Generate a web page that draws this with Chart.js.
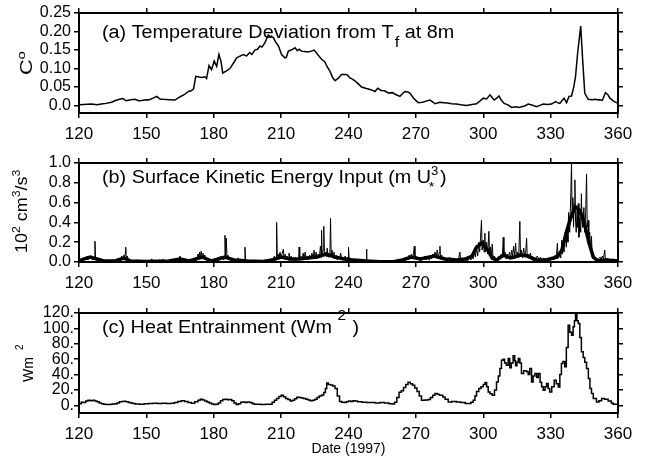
<!DOCTYPE html>
<html>
<head>
<meta charset="utf-8">
<script src="https://cdn.jsdelivr.net/npm/chart.js@4.4.1/dist/chart.umd.min.js"></script>
<style>
  body { margin: 0; background: #fff; }
  #wrap { position: relative; width: 646px; height: 460px; background: #fff; }
  canvas { position: absolute; left: 0; }
</style>
</head>
<body>
<div id="wrap">
  <canvas id="panelA" width="646" height="150" style="top:0px"></canvas>
  <canvas id="panelB" width="646" height="150" style="top:150px"></canvas>
  <canvas id="panelC" width="646" height="160" style="top:300px"></canvas>
</div>
<script>
// shared x axis (day of year)
const xMin = 120, xMax = 360;
const xTickLabels = ['120', '150', '180', '210', '240', '270', '300', '330', '360'];

// (a) temperature deviation from Tf at 8m
const daysA = [120, 122, 125.6, 128, 130, 132, 134.5, 136, 138, 139.5, 141, 143, 145, 146.5, 148, 150, 151, 153, 154.6, 156,
  157.5, 160, 162.7, 164, 165.7, 167, 168.7, 170, 171, 172, 173.5, 174.6, 176, 176.8, 177.9, 179, 180.2, 181.3, 182.3, 183.2,
  184, 185.5, 187.2, 188.8, 190.2, 191.5, 193.1, 194.6, 196, 197, 198.3, 199.5, 200.6, 201.5, 202.8, 204.3, 205.3, 206.5, 207.5, 208.8,
  210.2, 211.7, 212.3, 213.2, 214.5, 216.2, 217.2, 218, 219.1, 220.5, 222.1, 223.4, 224.7, 226, 228, 229.5, 230.5, 231.7, 233, 234,
  235.5, 236.9, 238.4, 239.5, 240.5, 241.4, 243, 244.5, 245.8, 248, 250, 251.8, 253, 254.5, 256, 257.7, 259.5, 261, 262.9, 264,
  265.1, 266.5, 267.3, 269, 271, 273, 274.5, 276.2, 277.5, 278.5, 280.7, 282.5, 284, 285.9, 288, 290, 292.6, 295, 297, 298.5,
  300, 301.5, 303, 304.2, 304.9, 306, 307, 308, 309.3, 311, 312.6, 314.5, 316, 317, 318.5, 320, 322, 323.7, 325, 326.7,
  328.5, 330.4, 332.2, 333, 334.1, 335, 336, 337.1, 338.2, 339.3, 340.3, 341.1, 342, 343.4, 344.3, 345.2, 346.7, 348.5, 350, 351.2,
  352, 353, 354.4, 355.4, 356.4, 358, 360];
const tempDev = [0.002, 0.003, 0.004, 0.002, 0.004, 0.006, 0.009, 0.013, 0.017, 0.019, 0.013, 0.016, 0.017, 0.013, 0.014, 0.016, 0.015, 0.02, 0.025, 0.018,
  0.017, 0.016, 0.015, 0.02, 0.026, 0.03, 0.038, 0.04, 0.045, 0.079, 0.077, 0.076, 0.078, 0.073, 0.108, 0.097, 0.12, 0.106, 0.138, 0.12,
  0.088, 0.093, 0.10, 0.115, 0.129, 0.133, 0.138, 0.134, 0.143, 0.138, 0.15, 0.152, 0.161, 0.158, 0.17, 0.191, 0.186, 0.184, 0.172, 0.161,
  0.138, 0.129, 0.13, 0.147, 0.15, 0.156, 0.148, 0.152, 0.147, 0.146, 0.145, 0.147, 0.15, 0.14, 0.125, 0.118, 0.105, 0.093, 0.075, 0.067,
  0.074, 0.084, 0.084, 0.083, 0.075, 0.073, 0.066, 0.058, 0.05, 0.046, 0.043, 0.038, 0.047, 0.041, 0.04, 0.034, 0.035, 0.03, 0.025, 0.032,
  0.038, 0.037, 0.034, 0.02, 0.008, 0.009, 0.012, 0.015, 0.01, 0.005, 0.009, 0.008, 0.007, 0.005, 0.004, 0.002, 0, 0.003, 0.005, 0.012,
  0.02, 0.018, 0.029, 0.02, 0.015, 0.02, 0.026, 0.015, 0.006, 0.002, -0.005, -0.003, -0.005, -0.003, -0.001, 0.004, 0.001, -0.003, 0, 0.004,
  0.003, 0.004, 0.011, 0.008, 0.006, 0.013, 0.02, 0.008, 0.025, 0.026, 0.05, 0.079, 0.14, 0.215, 0.12, 0.034, 0.017, 0.016, 0.017, 0.015,
  0.016, 0.014, 0.035, 0.03, 0.02, 0.012, 0.006];
const yLabelsA = ['0.0', '0.05', '0.10', '0.15', '0.20', '0.25'];

// (b) surface kinetic energy input, raw series
const daysB = [
  120, 120.5, 121, 121.5, 122, 122.5, 123, 123.5, 124, 124.5,
  125, 125.5, 126, 126.5, 126.8, 127.1, 127.4, 128, 128.5, 129,
  130, 131, 132, 133, 134, 135, 136, 137, 137.5, 138,
  138.5, 139, 139.5, 140, 140.3, 140.6, 140.8, 141.1, 141.5, 142,
  143, 144, 145, 146, 146.5, 147, 148, 150, 151, 152.5,
  153, 154, 155, 156, 157, 157.5, 158, 159, 160, 161,
  162, 163, 163.5, 164, 164.5, 165, 165.5, 166, 166.5, 167,
  168, 169, 170, 171, 171.5, 172, 172.5, 173, 173.3, 173.7,
  174, 174.4, 174.8, 175.2, 175.6, 176, 176.5, 177, 178, 179,
  180, 181, 181.5, 182, 182.5, 183, 183.5, 184, 184.5, 184.8,
  185, 185.3, 185.6, 185.9, 186.3, 186.8, 187.3, 188, 188.5, 189,
  190, 191, 191.5, 192, 193, 193.7, 193.9, 194.2, 195, 196,
  197, 199, 201, 203, 204, 205, 205.5, 206, 206.5, 207,
  207.5, 207.8, 208, 208.3, 208.7, 209, 209.5, 210, 210.5, 211,
  211.3, 211.8, 212.2, 212.7, 213.2, 213.5, 214, 214.5, 215, 216,
  216.5, 217, 217.5, 217.8, 218, 218.3, 218.8, 219.3, 219.8, 220.2,
  220.7, 221.2, 221.7, 222.2, 222.7, 223.2, 223.7, 224.2, 224.7, 225.1,
  225.6, 226, 226.5, 227, 227.5, 227.8, 228, 228.3, 228.7, 229,
  229.3, 229.8, 230.2, 230.5, 230.9, 231.3, 231.7, 232, 232.3, 232.7,
  233.1, 233.5, 234, 234.5, 235, 235.5, 236, 236.5, 237, 237.5,
  238, 238.5, 239, 239.5, 239.8, 240, 240.3, 241, 242, 243,
  244, 245, 246, 247, 247.9, 248, 248.2, 249, 251, 253,
  256, 259, 262, 263, 264, 265, 265.5, 266, 266.5, 267,
  267.5, 268, 268.5, 269, 269.3, 269.6, 270, 270.5, 271, 272,
  273, 274, 274.5, 275, 276, 276.5, 277, 277.5, 278, 278.5,
  279, 279.5, 280, 280.4, 280.7, 281, 281.5, 282, 283, 284,
  285, 285.5, 286, 287, 288, 289, 289.6, 290, 291, 292,
  293, 294, 294.5, 295, 295.5, 296, 296.5, 297, 297.5, 298,
  298.4, 298.8, 299.2, 299.5, 300, 300.4, 300.7, 301, 301.5, 302,
  302.5, 302.8, 303.2, 303.6, 304, 304.4, 305, 305.5, 306, 306.5,
  307, 307.5, 308, 308.5, 308.9, 309.2, 309.7, 310.2, 310.7, 311.2,
  311.7, 312.2, 312.7, 313.1, 313.5, 314, 314.4, 314.8, 315.3, 315.8,
  316.3, 316.6, 317, 317.5, 318, 318.5, 318.9, 319.3, 319.6, 320,
  320.5, 321, 321.5, 322, 322.5, 323, 323.5, 324, 325, 325.5,
  326, 327, 328, 329, 330, 331, 331.5, 332, 332.5, 333,
  333.3, 334, 334.5, 335, 335.3, 335.7, 336, 336.5, 337, 337.3,
  337.7, 338, 338.5, 339, 339.3, 339.6, 339.9, 340.2, 340.5, 340.8,
  341.1, 341.4, 341.8, 342.1, 342.3, 342.6, 343, 343.4, 343.7, 344,
  344.4, 344.8, 345.2, 345.6, 346, 346.3, 346.7, 347, 347.4, 347.8,
  348.2, 348.5, 349, 349.5, 350, 350.5, 351, 352, 352.5, 353,
  353.5, 354.1, 354.4, 355, 355.5, 356, 357, 358, 359, 360];
const keRaw = [
  0.01, 0.03, 0.01, 0.04, 0.02, 0.05, 0.03, 0.06, 0.02, 0.05,
  0.03, 0.06, 0.02, 0.05, 0.03, 0.21, 0.02, 0.04, 0.01, 0.03,
  0.01, 0.02, 0.005, 0.01, 0.005, 0.02, 0.01, 0.03, 0.01, 0.04,
  0.02, 0.06, 0.03, 0.07, 0.03, 0.09, 0.15, 0.03, 0.06, 0.02,
  0.01, 0.005, 0.01, 0.02, 0.005, 0.02, 0.005, 0.01, 0.005, 0.03,
  0.005, 0.01, 0.005, 0.02, 0.01, 0.03, 0.01, 0.005, 0.01, 0.02,
  0.01, 0.03, 0.01, 0.04, 0.02, 0.06, 0.02, 0.04, 0.01, 0.03,
  0.01, 0.005, 0.01, 0.03, 0.01, 0.05, 0.02, 0.08, 0.03, 0.10,
  0.04, 0.11, 0.05, 0.09, 0.03, 0.07, 0.02, 0.04, 0.01, 0.02,
  0.005, 0.03, 0.01, 0.05, 0.02, 0.06, 0.03, 0.05, 0.02, 0.04,
  0.27, 0.05, 0.24, 0.04, 0.07, 0.02, 0.05, 0.01, 0.03, 0.01,
  0.02, 0.04, 0.01, 0.03, 0.01, 0.02, 0.15, 0.02, 0.01, 0.02,
  0.005, 0.01, 0.005, 0.005, 0.01, 0.03, 0.01, 0.04, 0.02, 0.06,
  0.03, 0.05, 0.40, 0.04, 0.08, 0.03, 0.10, 0.04, 0.09, 0.13,
  0.03, 0.08, 0.02, 0.06, 0.02, 0.09, 0.03, 0.06, 0.01, 0.03,
  0.01, 0.04, 0.02, 0.03, 0.15, 0.02, 0.06, 0.02, 0.09, 0.03,
  0.10, 0.03, 0.06, 0.02, 0.07, 0.03, 0.09, 0.04, 0.12, 0.04,
  0.10, 0.04, 0.08, 0.04, 0.16, 0.05, 0.32, 0.05, 0.12, 0.36,
  0.06, 0.10, 0.05, 0.14, 0.05, 0.09, 0.05, 0.44, 0.06, 0.12,
  0.04, 0.10, 0.03, 0.07, 0.02, 0.06, 0.03, 0.09, 0.03, 0.05,
  0.02, 0.06, 0.02, 0.05, 0.03, 0.15, 0.02, 0.04, 0.02, 0.03,
  0.01, 0.02, 0.01, 0.02, 0.01, 0.13, 0.01, 0.01, 0.005, 0.005,
  0.003, 0.005, 0.01, 0.02, 0.01, 0.04, 0.02, 0.05, 0.02, 0.07,
  0.03, 0.08, 0.03, 0.10, 0.16, 0.04, 0.06, 0.02, 0.04, 0.01,
  0.03, 0.06, 0.02, 0.04, 0.02, 0.05, 0.03, 0.08, 0.04, 0.10,
  0.05, 0.12, 0.05, 0.09, 0.16, 0.04, 0.07, 0.02, 0.04, 0.01,
  0.05, 0.02, 0.03, 0.01, 0.02, 0.03, 0.10, 0.01, 0.02, 0.03,
  0.01, 0.05, 0.02, 0.07, 0.03, 0.10, 0.05, 0.14, 0.06, 0.20,
  0.10, 0.25, 0.42, 0.12, 0.22, 0.10, 0.29, 0.10, 0.20, 0.08,
  0.31, 0.08, 0.15, 0.05, 0.18, 0.04, 0.06, 0.02, 0.04, 0.02,
  0.06, 0.03, 0.08, 0.04, 0.25, 0.05, 0.10, 0.03, 0.08, 0.03,
  0.10, 0.04, 0.12, 0.05, 0.16, 0.06, 0.19, 0.05, 0.10, 0.04,
  0.41, 0.06, 0.12, 0.04, 0.14, 0.05, 0.10, 0.24, 0.04, 0.08,
  0.03, 0.09, 0.03, 0.06, 0.02, 0.05, 0.02, 0.06, 0.02, 0.05,
  0.02, 0.04, 0.01, 0.03, 0.02, 0.05, 0.02, 0.07, 0.03, 0.19,
  0.04, 0.08, 0.04, 0.22, 0.08, 0.18, 0.10, 0.30, 0.15, 0.35,
  0.20, 0.50, 0.30, 0.70, 1.0, 0.45, 0.65, 0.35, 0.60, 0.83,
  0.40, 0.30, 0.55, 0.35, 0.59, 0.25, 0.45, 0.30, 0.69, 0.40,
  0.35, 0.55, 0.30, 0.50, 0.89, 0.35, 0.42, 0.22, 0.30, 0.12,
  0.26, 0.05, 0.03, 0.06, 0.02, 0.04, 0.02, 0.05, 0.02, 0.06,
  0.03, 0.12, 0.02, 0.04, 0.02, 0.03, 0.01, 0.03, 0.02, 0.03];

// (b) smoothed series (thick line)
const daysBs = [120, 122, 125, 128, 131, 136, 140, 143, 150, 160, 165, 169, 175, 179, 185, 189, 195, 202, 206, 210,
  214, 218, 222, 226, 230, 234, 238, 242, 248, 254, 260, 264, 268, 272, 278, 283, 288, 292, 295, 297,
  299.5, 302, 304, 306, 309, 312, 314, 316, 320, 323, 328, 333, 335, 337, 339, 341, 343, 345, 347, 349,
  351, 355, 360];
const keSmooth = [0.01, 0.03, 0.05, 0.03, 0.01, 0.01, 0.04, 0.01, 0.005, 0.01, 0.03, 0.01, 0.05, 0.01, 0.05, 0.02, 0.01, 0.005, 0.02, 0.05,
  0.03, 0.03, 0.04, 0.05, 0.08, 0.05, 0.03, 0.02, 0.01, 0.003, 0.003, 0.02, 0.05, 0.03, 0.06, 0.03, 0.02, 0.03, 0.06, 0.15,
  0.195, 0.12, 0.04, 0.02, 0.07, 0.04, 0.05, 0.07, 0.06, 0.02, 0.02, 0.05, 0.12, 0.30, 0.45, 0.56, 0.52, 0.40, 0.20, 0.05,
  0.01, 0.02, 0.01];
const yLabelsB = ['0.0', '0.2', '0.4', '0.6', '0.8', '1.0'];

// (c) heat entrainment
const daysC = [
  120, 121, 122, 123, 124, 125, 126, 127, 128, 129,
  130, 131, 132, 134, 135, 136, 137, 138, 139, 140,
  141, 142, 143, 144, 145, 147, 149, 151, 153, 155,
  157, 159, 161, 162.5, 164, 165.5, 167, 168.5, 170, 171.5,
  173, 174, 175, 176, 177, 178, 179, 180, 181, 182,
  183, 184, 185, 186, 187, 188, 189, 190, 191, 192,
  193, 194, 195, 196, 197, 198, 199, 201, 203, 205,
  206, 207, 208, 209, 210, 211, 212, 213, 214, 215,
  216, 217, 218, 219, 220, 221, 222, 223, 224, 225,
  226, 227, 228, 229, 229.7, 230.3, 231, 232, 233, 234,
  235, 236, 237, 238, 239, 240, 241, 242, 243, 244,
  246, 248, 250, 252, 254, 256, 258, 259.5, 260.5, 261.5,
  262.5, 263.5, 264.5, 265.5, 266.5, 267.5, 268.5, 269.5, 270.5, 271.5,
  272.5, 274, 275.5, 276.5, 277.5, 278.5, 279.5, 280.5, 282, 283,
  284.4, 286, 288, 290, 292, 293.3, 294.5, 295.5, 296.3, 297,
  298, 299, 300, 300.8, 301.5, 302.2, 303, 304, 305, 305.9,
  306.7, 307.4, 308.1, 308.8, 309.5, 310.3, 311.1, 311.8, 312.5, 313.3,
  314, 314.4, 315, 315.6, 316.3, 317, 318, 319.3, 320, 320.7,
  321.5, 322.2, 323, 323.8, 324.5, 325.3, 326, 326.7, 327.5, 328.2,
  328.9, 329.6, 330.5, 331.6, 332.5, 333.4, 334.1, 334.8, 335.5, 336.3,
  337, 337.8, 338.5, 339.3, 340, 340.6, 341.1, 341.7, 342.3, 343,
  343.7, 344.5, 345.2, 346, 346.8, 347.5, 348.2, 349, 350.4, 351.5,
  352.7, 354, 355.6, 357, 357.8, 360];
const heatC = [
  2, 4, 3.5, 5.5, 6.5, 6, 6.5, 5.5, 4.5, 3,
  2, 1.3, 1, 1.3, 1.7, 2, 3, 4.5, 5, 5.2,
  4.5, 3.8, 3, 2.2, 1.7, 1.5, 2, 2.2, 2.6, 2.2,
  2.8, 2.4, 2.6, 3.5, 5, 6, 5, 3.5, 2.8, 4.5,
  6.5, 7.8, 7, 5.5, 4.3, 3, 1.8, 0.9, 1.5, 3,
  6, 7.4, 7.8, 7.2, 7.6, 6, 3, 1, 2, 4,
  4.3, 3.8, 4.3, 3.5, 2.5, 1.5, 1.3, 1, 1.3, 1.5,
  4, 6.5, 9, 11.5, 13, 11, 9, 7.5, 5.5, 6.5,
  8.5, 10.5, 10, 9.5, 8.7, 8, 7, 6, 6.5, 8,
  10, 12, 13.5, 16.5, 22, 29, 27, 26.5, 25, 22,
  12, 5, 4, 3.5, 4.5, 5.7, 5, 6, 5.5, 4.5,
  4, 3.5, 3.8, 3, 3.5, 3, 2, 1.7, 4, 10,
  17, 19, 23, 27, 30, 28, 26, 22.6, 18, 12,
  6.5, 7, 7.4, 10, 13, 15.2, 14.5, 13, 10.9, 8,
  4.3, 4.8, 4.3, 3.8, 2.5, 2.2, 4, 6.5, 12, 18,
  21.7, 24, 27, 29.6, 24, 17.4, 15, 13, 20, 30.4,
  38, 48, 58.7, 60, 55, 52, 61, 48.7, 55, 64.3,
  58, 51.3, 56, 61, 55, 41.3, 45, 43.5, 40, 47.8,
  30.4, 38, 41.3, 36, 41.3, 30, 24, 19.6, 24, 28.3,
  22, 17.4, 24, 32.6, 28, 23.9, 40, 54.3, 57, 50,
  75, 104, 95, 91, 102, 110, 118, 110, 106.5, 88,
  69.6, 62, 56, 47.8, 35, 22, 15.2, 9, 4.3, 6,
  8.7, 8, 5.7, 3, 1.3, 1.3];
const yLabelsC = ['0.', '20.', '40.', '60.', '80.', '100.', '120.'];

const FONT = "'Liberation Sans', Arial, Helvetica, sans-serif";

function points(xs, ys) {
  return xs.map((x, i) => ({ x: x, y: ys[i] }));
}

function buildScales(p) {
  const edge = { color: '#000', width: 2 };
  const marks = { drawOnChartArea: false, color: '#000', lineWidth: 1.5, tickLength: 5 };
  return {
    x: {
      type: 'linear', position: 'bottom', min: xMin, max: xMax,
      border: edge, grid: marks,
      ticks: {
        stepSize: 30, autoSkip: false, maxRotation: 0, color: '#000', padding: 6,
        font: { family: FONT, size: 17 },
        callback: (v) => xTickLabels[Math.round((v - xMin) / 30)]
      },
      title: p.xTitle
        ? { display: true, text: p.xTitle, color: '#000', font: { family: FONT, size: 14 }, padding: { top: 0, bottom: 2 } }
        : { display: false },
      afterFit: (s) => { s.height = p.bottom; }
    },
    xTop: {
      type: 'linear', position: 'top', min: xMin, max: xMax,
      border: edge, grid: marks,
      ticks: { stepSize: 30, display: false },
      afterFit: (s) => { s.height = 13; }
    },
    y: {
      type: 'linear', position: 'left', min: p.yMin, max: p.yMax,
      border: edge, grid: marks,
      ticks: {
        stepSize: p.yStep, includeBounds: false, autoSkip: false, color: '#000', padding: p.yPad,
        font: { family: FONT, size: 16 },
        callback: (v) => p.yLabels[Math.round(v / p.yStep)]
      },
      afterFit: (s) => { s.width = 79; }
    },
    yRight: {
      type: 'linear', position: 'right', min: p.yMin, max: p.yMax,
      border: edge, grid: marks,
      ticks: { stepSize: p.yStep, includeBounds: false, display: false },
      afterFit: (s) => { s.width = 28; }
    }
  };
}

// text with sub/superscripts: [text, size, dy, gapBefore, keepX]
function drawRich(ctx, x, y, parts, rotate, sx) {
  ctx.save();
  ctx.translate(x, y);
  if (rotate) ctx.rotate(-Math.PI / 2);
  ctx.scale(sx, 1);
  ctx.fillStyle = '#000';
  ctx.textBaseline = 'alphabetic';
  ctx.textAlign = 'left';
  let cx = 0;
  parts.forEach(([text, size, dy, gap, keep]) => {
    cx += gap || 0;
    ctx.font = size + 'px ' + FONT;
    ctx.fillText(text, cx, dy);
    if (!keep) cx += ctx.measureText(text).width;
  });
  ctx.restore();
}

function labelPlugin(title, yTitle) {
  return {
    id: 'panelText',
    afterDraw(chart) {
      const ctx = chart.ctx;
      drawRich(ctx, title.x, title.y, title.parts, false, 1.1);
      drawRich(ctx, yTitle.x, yTitle.y, yTitle.parts, true, yTitle.sx);
    }
  };
}

function makePanel(id, datasets, p, title, yTitle) {
  return new Chart(document.getElementById(id), {
    type: 'line',
    data: { datasets: datasets },
    options: {
      responsive: false,
      animation: false,
      devicePixelRatio: 1,
      layout: { padding: 0 },
      plugins: { legend: { display: false }, tooltip: { enabled: false } },
      elements: { point: { radius: 0 }, line: { tension: 0 } },
      scales: buildScales(p)
    },
    plugins: [labelPlugin(title, yTitle)]
  });
}

makePanel('panelA',
  [{ data: points(daysA, tempDev), borderColor: '#000', borderWidth: 1.5, fill: false, xAxisID: 'x', yAxisID: 'y' }],
  { yMin: -0.02, yMax: 0.25, yStep: 0.05, yLabels: yLabelsA, yPad: 3, bottom: 37 },
  { x: 102, y: 37.5, parts: [['(a) Temperature Deviation from T', 18, 0], ['f', 15, 9, 1], [' at 8m', 18, 0]] },
  { x: 31.7, y: 75, sx: 1.35, parts: [['C', 16, 0], ['o', 11, -7]] }
);

makePanel('panelB',
  [
    { data: points(daysB, keRaw), borderColor: '#000', borderWidth: 1, fill: false, xAxisID: 'x', yAxisID: 'y' },
    { data: points(daysBs, keSmooth), borderColor: '#000', borderWidth: 3.5, fill: false, xAxisID: 'x', yAxisID: 'y' }
  ],
  { yMin: 0, yMax: 1.0, yStep: 0.2, yLabels: yLabelsB, yPad: 3, bottom: 38 },
  { x: 102, y: 33.3, parts: [['(b) Surface Kinetic Energy Input (m U', 18, 0], ['3', 12, -8, 0, true], ['*', 13, 8, -2], [')', 18, 0, 5]] },
  { x: 27, y: 103, sx: 1.12, parts: [['10', 16, 0], ['2', 11, -7], [' cm', 16, 0], ['3', 11, -7], ['/s', 16, 0], ['3', 11, -7]] }
);

makePanel('panelC',
  [{ data: points(daysC, heatC), borderColor: '#000', borderWidth: 1.5, fill: false, stepped: true, xAxisID: 'x', yAxisID: 'y' }],
  { yMin: -10, yMax: 120, yStep: 20, yLabels: yLabelsC, yPad: 0, bottom: 47, xTitle: 'Date (1997)' },
  { x: 102, y: 32.7, parts: [['(c) Heat Entrainment (Wm', 18, 0], ['2', 14, -13, 5], [' )', 18, 0, 1]] },
  { x: 33, y: 82, sx: 1, parts: [['Wm', 14, 0], ['2', 10, -10, 7]] }
);
</script>
</body>
</html>
